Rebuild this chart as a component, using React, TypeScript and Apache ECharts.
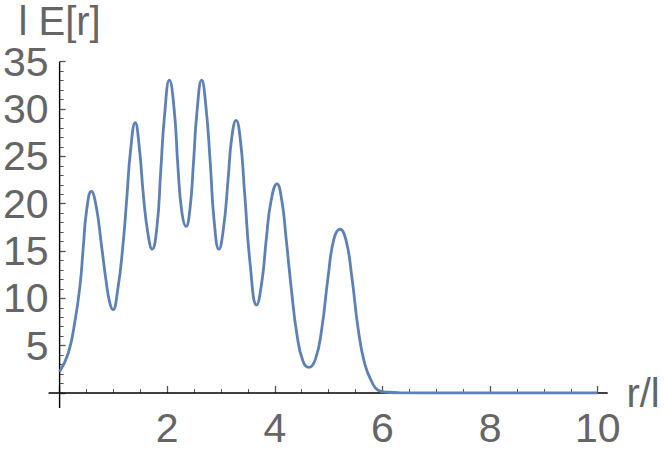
import React, { useEffect, useRef } from "react";
import * as echarts from "echarts";

// r/l positions
const rValues = [
  0, 0.16, 0.28, 0.38, 0.44, 0.5, 0.59, 0.68, 0.78, 0.87, 0.93, 0.99, 1.08, 1.18, 1.25, 1.32, 1.405,
  1.48, 1.56, 1.64, 1.72, 1.81, 1.88, 1.95, 2.04, 2.13, 2.2, 2.27, 2.35, 2.42, 2.49, 2.55, 2.64,
  2.72, 2.8, 2.87, 2.96, 3.05, 3.13, 3.2, 3.28, 3.36, 3.44, 3.54, 3.66, 3.76, 3.84, 3.93, 4.04,
  4.13, 4.21, 4.31, 4.41, 4.52, 4.63, 4.75, 4.87, 4.99, 5.1, 5.21, 5.32, 5.43, 5.55, 5.67, 5.8,
  5.92, 6.1, 6.4, 7, 8, 9, 10,
];
// l E[r] values
const eValues = [
  2.25, 4.2, 7.4, 11.4, 15.4, 19.2, 21.3, 19.7, 15.5, 11.6, 9.6, 8.8, 10.9, 15.8, 20.7, 25.7, 28.55,
  26.0, 20.7, 16.9, 15.2, 17.6, 23.5, 29.3, 33.05, 29.9, 23.8, 19.2, 17.6, 19.3, 24.5, 29.5, 33.05,
  30.2, 24.3, 18.3, 15.2, 17.6, 22.5, 27.0, 28.8, 26.7, 21.0, 13.7, 9.3, 11.8, 16.2, 20.3, 22.1,
  20.3, 16.3, 10.8, 6.2, 3.4, 2.7, 3.5, 6.7, 12.3, 16.3, 17.3, 16.2, 12.3, 6.7, 3.1, 1.2,
  0.3, 0.08, 0.02, 0, 0, 0, 0,
];

const xTicks = { min: 0, max: 10, interval: 2 };
const yTicks = { min: 0, max: 35, interval: 5 };

const FONT = "Liberation Sans, Arial, sans-serif";
const LABEL_COLOR = "#656565";
const TICK_COLOR = "#555555";

export default function App() {
  const ref = useRef<HTMLDivElement>(null);

  useEffect(() => {
    if (!ref.current) return;
    const chart = echarts.init(ref.current, undefined, { renderer: "svg" });
    const data = rValues.map((r, i) => [r, eValues[i]]);
    chart.setOption({
      animation: false,
      grid: { left: 56.3, right: 66.3, top: 61.7, bottom: 58, containLabel: false },
      xAxis: {
        type: "value",
        min: xTicks.min,
        max: xTicks.max,
        interval: xTicks.interval,
        axisLine: { show: false },
        axisTick: { show: true, inside: true, length: 7, lineStyle: { color: TICK_COLOR, width: 1.3 } },
        minorTick: { show: true, splitNumber: 4, length: 4, lineStyle: { color: TICK_COLOR, width: 1 } },
        splitLine: { show: false },
        minorSplitLine: { show: false },
        axisLabel: { showMinLabel: false, fontSize: 41, color: LABEL_COLOR, fontFamily: FONT, margin: 14 },
        name: "r/l",
        nameLocation: "end",
        nameGap: 25,
        nameTextStyle: { fontSize: 40, color: LABEL_COLOR, fontFamily: FONT, padding: [8, 0, 0, 0] },
      },
      yAxis: {
        type: "value",
        min: yTicks.min,
        max: yTicks.max,
        interval: yTicks.interval,
        axisLine: { show: false },
        axisTick: { show: true, inside: true, length: 6, lineStyle: { color: TICK_COLOR, width: 1.3 } },
        minorTick: { show: true, splitNumber: 5, length: 4, lineStyle: { color: TICK_COLOR, width: 1 } },
        splitLine: { show: false },
        minorSplitLine: { show: false },
        axisLabel: { showMinLabel: false, fontSize: 41, color: LABEL_COLOR, fontFamily: FONT, margin: 11 },
        name: "l E[r]",
        nameLocation: "end",
        nameGap: 5,
        nameTextStyle: { fontSize: 40, color: LABEL_COLOR, fontFamily: FONT },
      },
      series: [
        {
          type: "line",
          data,
          smooth: 0.5,
          showSymbol: false,
          symbol: "none",
          lineStyle: { color: "#5E81B5", width: 2.8 },
          z: 3,
        },
      ],
    });
    const o = chart.convertToPixel({ gridIndex: 0 }, [xTicks.min, yTicks.min]) as number[];
    const tr = chart.convertToPixel({ gridIndex: 0 }, [xTicks.max, yTicks.max]) as number[];
    chart.setOption({
      graphic: [
        {
          type: "line",
          z: 1,
          shape: { x1: o[0] - 11, y1: o[1], x2: tr[0] + 10, y2: o[1] },
          style: { stroke: "#000", lineWidth: 1.4 },
        },
        {
          type: "line",
          z: 1,
          shape: { x1: o[0], y1: tr[1], x2: o[0], y2: o[1] + 15 },
          style: { stroke: "#000", lineWidth: 1.4 },
        },
      ],
    });
    return () => chart.dispose();
  }, []);

  return (
    <div
      ref={ref}
      style={{ position: "fixed", left: 0, top: 0, width: 664, height: 451, background: "#fff" }}
    />
  );
}
